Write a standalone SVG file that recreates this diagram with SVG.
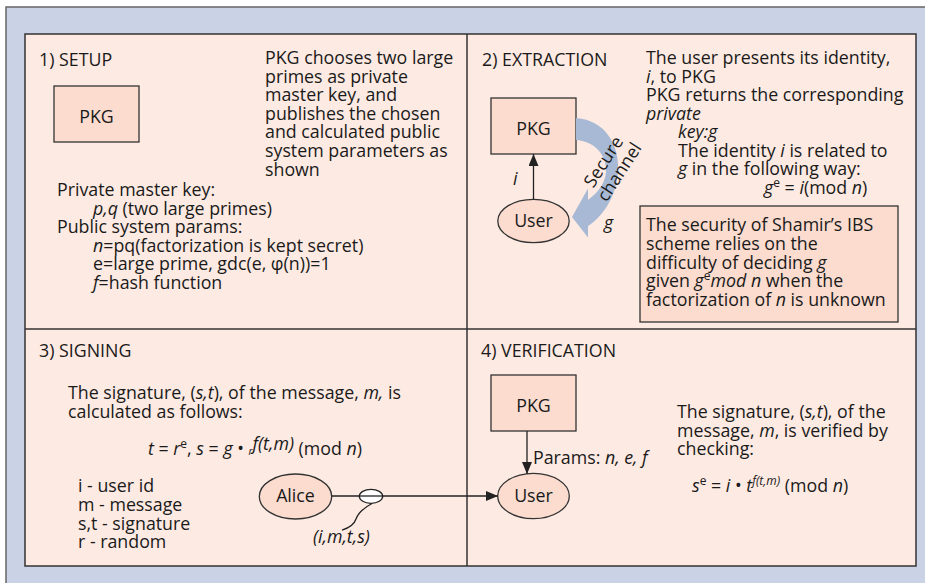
<svg xmlns="http://www.w3.org/2000/svg" width="925" height="583" viewBox="0 0 925 583">
<defs>
<style>
text { font-family: "Open Sans", "Liberation Sans", sans-serif; font-size: 17.8px; fill: #1a1a1a; }
.i { font-style: italic; }
.mid { text-anchor: middle; }
.box { fill: #fbdccf; stroke: #333; stroke-width: 1.3; }
.ln { fill: none; stroke: #222; stroke-width: 1.3; }
.sup { font-size: 12px; }
</style>
<marker id="ah" markerUnits="userSpaceOnUse" markerWidth="12" markerHeight="10" refX="12" refY="5" orient="auto">
<path d="M0,0 L12,5 L0,10 z" fill="#222"/>
</marker>
</defs>

<g id="background">
<rect x="6" y="7" width="940" height="600" fill="#c9d3e5" stroke="#666" stroke-width="1.5"/>
<rect x="25" y="34" width="891" height="532" fill="#fdeae2" stroke="#333" stroke-width="1.5"/>
<line x1="467" y1="34" x2="467" y2="566" stroke="#333" stroke-width="1.5"/>
<line x1="25" y1="329" x2="916" y2="329" stroke="#333" stroke-width="1.5"/>
</g>

<g id="setup">
<text x="39" y="66">1) SETUP</text>
<text x="265" y="64">PKG chooses two large<tspan x="265" dy="18.6">primes as private</tspan><tspan x="265" dy="18.6">master key, and</tspan><tspan x="265" dy="18.6">publishes the chosen</tspan><tspan x="265" dy="18.6">and calculated public</tspan><tspan x="265" dy="18.6">system parameters as</tspan><tspan x="265" dy="18.6">shown</tspan></text>
<text x="57" y="196">Private master key:<tspan class="i" x="93" dy="18.6">p,q</tspan><tspan> (two large primes)</tspan><tspan x="57" dy="18.6">Public system params:</tspan><tspan class="i" x="93" dy="18.6">n</tspan><tspan>=pq(factorization is kept secret)</tspan><tspan x="93" dy="18.6">e=large prime, gdc(e, φ(n))=1</tspan><tspan class="i" x="93" dy="18.6">f</tspan><tspan>=hash function</tspan></text>
</g>
<g id="setup-pkg">
<rect class="box" x="54" y="86" width="85" height="56"/>
<text class="mid" x="96.5" y="123">PKG</text>
</g>

<g id="extraction">
<text x="482" y="66">2) EXTRACTION</text>
<text x="646" y="64">The user presents its identity,<tspan class="i" x="646" dy="18.5">i</tspan><tspan>, to PKG</tspan><tspan x="646" dy="18.5">PKG returns the corresponding</tspan><tspan class="i" x="646" dy="18.5">private</tspan><tspan class="i" x="678" dy="18.5">key:g</tspan><tspan x="678" dy="18.5">The identity </tspan><tspan class="i">i</tspan><tspan> is related to</tspan><tspan class="i" x="678" dy="18.5">g</tspan><tspan> in the following way:</tspan><tspan class="i" x="764" dy="18.5">g</tspan><tspan class="sup" dy="-7">e</tspan><tspan dy="7"> = </tspan><tspan class="i">i</tspan><tspan>(mod </tspan><tspan class="i">n</tspan><tspan>)</tspan></text>
</g>
<g id="extraction-pkg">
<rect class="box" x="491" y="98" width="85" height="56"/>
<text class="mid" x="533.5" y="135">PKG</text>
</g>
<g id="extraction-user">
<ellipse class="box" cx="533.5" cy="221" rx="35.7" ry="21.7"/>
<text class="mid" x="533.5" y="227">User</text>
</g>
<g id="security-note">
<rect class="box" x="640" y="206" width="258" height="116"/>
<text x="646" y="231">The security of Shamir’s IBS<tspan x="646" dy="18.8">scheme relies on the</tspan><tspan x="646" dy="18.8">difficulty of deciding </tspan><tspan class="i">g</tspan><tspan x="646" dy="18.8">given </tspan><tspan class="i">g</tspan><tspan class="sup" dy="-7">e</tspan><tspan class="i" dy="7">mod n</tspan><tspan> when the</tspan><tspan x="646" dy="18.8">factorization of </tspan><tspan class="i">n</tspan><tspan> is unknown</tspan></text>
</g>

<g id="signing">
<text x="39" y="357">3) SIGNING</text>
<text x="68" y="399">The signature, (<tspan class="i">s,t</tspan>), of the message, <tspan class="i">m,</tspan> is<tspan x="68" dy="18.7">calculated as follows:</tspan></text>
<text x="148" y="455"><tspan class="i">t</tspan> = <tspan class="i">r</tspan><tspan class="sup" dy="-7">e</tspan><tspan dy="7">, </tspan><tspan class="i">s</tspan> = <tspan class="i">g</tspan> • <tspan class="i" font-size="10">r</tspan><tspan class="i" dy="-5">f(t,m)</tspan><tspan dy="5"> (mod </tspan><tspan class="i">n</tspan>)</text>
<text x="78" y="492.3">i - user id<tspan x="78" dy="18.7">m - message</tspan><tspan x="78" dy="18.7">s,t - signature</tspan><tspan x="78" dy="18.7">r - random</tspan></text>
</g>
<g id="alice">
<ellipse class="box" cx="295.5" cy="496.5" rx="36.2" ry="22.5"/>
<text class="mid" x="295.5" y="502">Alice</text>
</g>

<g id="verification">
<text x="481" y="357">4) VERIFICATION</text>
<text x="677" y="418.3">The signature, (<tspan class="i">s,t</tspan>), of the<tspan x="677" dy="18.5">message, </tspan><tspan class="i">m</tspan><tspan>, is verified by</tspan><tspan x="677" dy="18.5">checking:</tspan></text>
<text x="692" y="492"><tspan class="i">s</tspan><tspan class="sup" dy="-7">e</tspan><tspan dy="7"> = </tspan><tspan class="i">i</tspan> • <tspan class="i">t</tspan><tspan class="i sup" dy="-7">f(t,m)</tspan><tspan dy="7"> (mod </tspan><tspan class="i">n</tspan>)</text>
</g>
<g id="verification-pkg">
<rect class="box" x="491" y="375" width="85" height="56"/>
<text class="mid" x="533.5" y="412">PKG</text>
</g>
<g id="verification-user">
<ellipse class="box" cx="533.5" cy="496" rx="35.8" ry="22.7"/>
<text class="mid" x="533.5" y="502">User</text>
</g>

<g id="connectors">
<line class="ln" x1="533.5" y1="199.3" x2="533.5" y2="154" marker-end="url(#ah)"/>
<text class="i" x="513" y="185">i</text>
<path d="M576,118 C605,120 620,145 618,172 C616,198 602,217 588,226 L588,237.5 L572,217 L588,188.5 L588,200 C599,192 607,181 606,168 C605,153 593,141 576,140 Z" fill="#a7b9d5"/>
<text transform="translate(608.5,165) rotate(-57)" class="mid" x="0" y="0">Secure<tspan x="0" dy="19">channel</tspan></text>
<text class="i" x="604" y="229">g</text>
<line class="ln" x1="527" y1="431" x2="527" y2="474" marker-end="url(#ah)"/>
<text x="533" y="464">Params: <tspan class="i">n, e, f</tspan></text>
<line class="ln" x1="331.7" y1="496" x2="498" y2="496" marker-end="url(#ah)"/>
<ellipse cx="371" cy="496.3" rx="11.7" ry="7" fill="#fff" stroke="#222" stroke-width="1.3"/>
<line class="ln" x1="359.3" y1="496" x2="382.7" y2="496"/>
<path class="ln" d="M372,503.5 C362,509 358,513 356,519 C354,525 349,528 342,530"/>
<text class="i" x="313" y="543.3">(i,m,t,s)</text>
</g>
</svg>
